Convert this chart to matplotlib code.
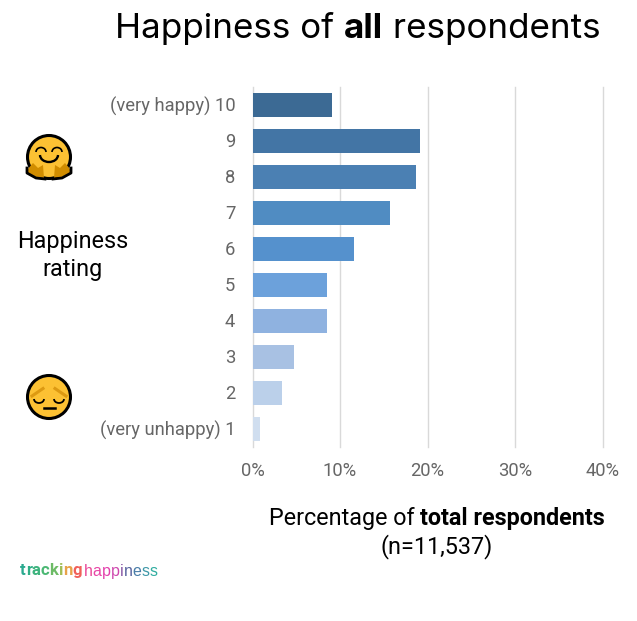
import matplotlib
matplotlib.use('Agg')
import matplotlib.pyplot as plt
from matplotlib.patches import Circle, Polygon, Arc
from matplotlib.transforms import Affine2D
import numpy as np

plt.rcParams['font.family'] = ['Roboto', 'DejaVu Sans']

ratings = ['(very happy) 10', '9', '8', '7', '6', '5', '4', '3', '2', '(very unhappy) 1']
percent = [9.1, 19.15, 18.7, 15.7, 11.6, 8.5, 8.5, 4.7, 3.4, 0.9]
bar_colors = ['#3c6a94', '#4375a5', '#4b80b3', '#508cc2', '#5591cd', '#6ca1db',
              '#8fb2e0', '#a8c1e3', '#bbd0ea', '#d0deef']
x_ticks = [0, 10, 20, 30, 40]
x_labels = ['0%', '10%', '20%', '30%', '40%']

W, H = 637, 621
fig = plt.figure(figsize=(W / 100, H / 100), dpi=100)

# Bars
ax = fig.add_axes([252.5 / W, 1 - 447 / H, 350 / W, 360 / H])
y = np.arange(len(ratings))
ax.barh(y, percent, height=0.667, color=bar_colors, zorder=3)
ax.set_ylim(len(ratings) - 0.5, -0.5)
ax.set_xlim(0, 40)
ax.set_xticks(x_ticks)
ax.set_xticklabels(x_labels)
ax.set_yticks(y)
ax.set_yticklabels(ratings)
ax.tick_params(axis='both', length=0, labelsize=13.2, labelcolor='#666666')
ax.tick_params(axis='x', pad=10.5)
ax.tick_params(axis='y', pad=12.5)
for lab in ax.get_yticklabels():
    lab.set_verticalalignment('center_baseline')
    lab.set_transform(lab.get_transform() + Affine2D().translate(0, 1))
ax.grid(axis='x', color='#d9d9d9', lw=1, zorder=0)
for gl in ax.get_xgridlines():
    gl.set_clip_on(False)
for s in ax.spines.values():
    s.set_visible(False)

# Overlay in pixel coordinates for the text pieces and emoji
ov = fig.add_axes([0, 0, 1, 1], zorder=5)
ov.set_xlim(0, W)
ov.set_ylim(H, 0)
ov.axis('off')
ov.patch.set_alpha(0)


def mixed_text(x, y, parts, size, color='black', family=None):
    # lay out (string, weight) pieces one after the other, x is the left edge
    r = fig.canvas.get_renderer()
    fam = family or plt.rcParams['font.family']
    for s, weight in parts:
        ov.text(x, y, s, fontsize=size, fontweight=weight, color=color, ha='left', va='baseline', family=fam)
        # trailing spaces are not measured reliably, so measure with a guard char
        g = ov.text(0, 0, s + '|', fontsize=size, fontweight=weight, family=fam)
        b = ov.text(0, 0, '|', fontsize=size, fontweight=weight, family=fam)
        x += g.get_window_extent(r).width - b.get_window_extent(r).width
        g.remove()
        b.remove()


mixed_text(115, 38, [('Happiness of ', 'normal'), ('all', 'bold'), (' respondents', 'normal')], 25.2,
           family=['Inter', 'DejaVu Sans'])
mixed_text(269, 525, [('Percentage of ', 'normal'), ('total respondents', 'bold')], 16.8)
ov.text(437, 553, '(n=11,537)', fontsize=16.8, ha='center', va='baseline')
ov.text(73, 248, 'Happiness', fontsize=16.8, ha='center', va='baseline')
ov.text(73, 276, 'rating', fontsize=16.8, ha='center', va='baseline')


# Emoji
def face(cx, cy):
    ov.add_patch(Circle((cx, cy), 21.5, fc='#fcc133', ec='black', lw=2.2, zorder=2))


face(49, 157)
for sx in (-1, 1):
    ov.add_patch(Arc((49 + sx * 8, 152), 10, 9, theta1=180, theta2=360, ec='black', lw=1.2, zorder=3))
    ov.add_patch(Polygon([(49 + sx * 5, 178), (49 + sx * 6, 165), (49 + sx * 11, 168), (49 + sx * 16, 163),
                          (49 + sx * 22, 170), (49 + sx * 21, 173), (49 + sx * 13, 177)],
                         fc='#d18d00', ec='none', zorder=3))
    ov.plot([49 + sx * 4, 49 + sx * 13, 49 + sx * 22, 49 + sx * 22],
            [179, 178, 173, 168], color='black', lw=2, zorder=4)
ov.add_patch(Arc((49, 155), 18, 14, theta1=0, theta2=180, ec='black', lw=1.7, zorder=3))
ov.set_ylim(H, 0)

face(49, 397)
for sx in (-1, 1):
    ov.plot([49 + sx * 6, 49 + sx * 17], [388.5, 396], color='#dd9a12', lw=2.2, zorder=3)
    ov.add_patch(Arc((49 + sx * 10, 399), 10, 8, theta1=0, theta2=180, ec='black', lw=1.3, zorder=3))
ov.plot([43.5, 54.5], [408, 408], color='black', lw=1.8, zorder=3)

# Logo
logo1 = 'tracking'
logo1_colors = ['#2aa98f', '#30ae86', '#3cb37d', '#4cb874', '#6dbb66', '#a0bd55', '#e8a24a', '#f0605a']
logo2 = 'happiness'
logo2_colors = ['#ea4a9a', '#e845a6', '#e340ac', '#cf48ae', '#8a5aa8', '#58649f', '#4a7da8', '#3f98a8', '#30ada0']
r = fig.canvas.get_renderer()
x = 20
for s, c in zip(logo1, logo1_colors):
    t = ov.text(x, 575, s, fontsize=12, fontweight='bold', color=c, va='baseline')
    x += t.get_window_extent(r).width
x += 2
for s, c in zip(logo2, logo2_colors):
    t = ov.text(x, 576, s, fontsize=11.5, color=c, va='baseline', family=['Liberation Sans', 'DejaVu Sans'])
    x += t.get_window_extent(r).width + 0.2

fig.savefig('out.png', dpi=100)
